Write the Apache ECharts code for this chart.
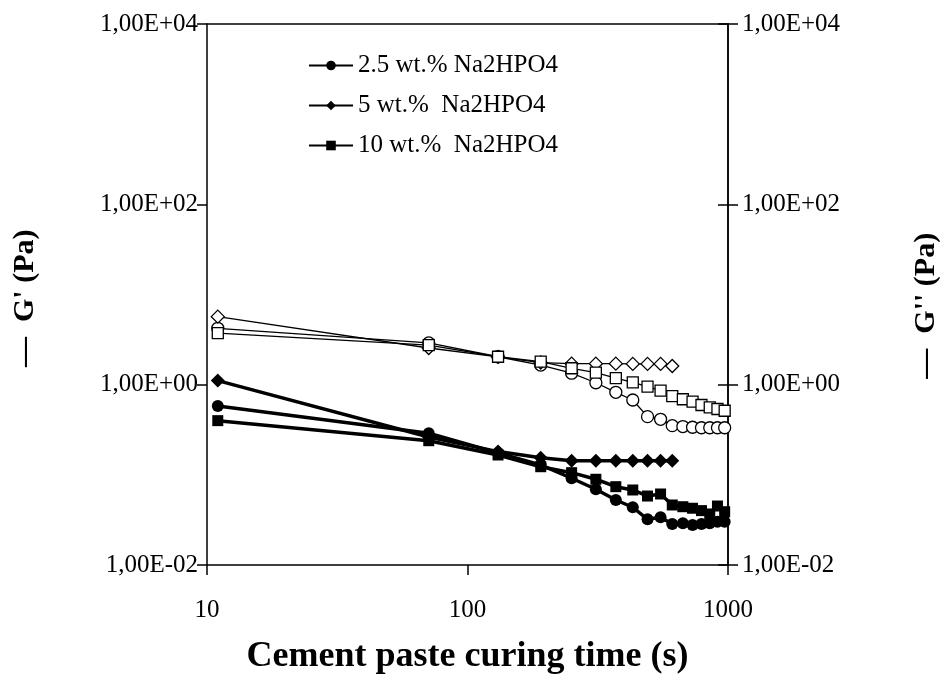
<!DOCTYPE html>
<html>
<head>
<meta charset="utf-8">
<script src="https://cdn.jsdelivr.net/npm/echarts@6/dist/echarts.min.js"></script>
<style>
html,body{margin:0;padding:0;background:#fff;}
#chart{width:940px;height:674px;}
</style>
</head>
<body>
<div id="chart"></div>
<script>
// Curing time (s)
var timesLong = [11, 71, 131, 191, 251, 311, 371, 431, 491, 551, 611, 671, 731, 791, 851, 911, 971];
var timesShort = [11, 71, 131, 191, 251, 311, 371, 431, 491, 551, 611];

// G' (filled symbols)
var gp25 = [0.580, 0.289, 0.175, 0.129, 0.0916, 0.0692, 0.0526, 0.0437, 0.0321, 0.0338, 0.0285, 0.0290, 0.0278, 0.0285, 0.0290, 0.0302, 0.0302];
var gp5 = [1.11, 0.263, 0.181, 0.155, 0.1436, 0.1436, 0.1436, 0.1436, 0.1436, 0.1436, 0.1436];
var gp10 = [0.399, 0.239, 0.166, 0.123, 0.1057, 0.0893, 0.0739, 0.0679, 0.0582, 0.0613, 0.0463, 0.0443, 0.0426, 0.0401, 0.0368, 0.0451, 0.0390];

// G'' (open symbols)
var gpp25 = [4.22, 2.90, 2.04, 1.65, 1.34, 1.05, 0.823, 0.676, 0.442, 0.413, 0.351, 0.343, 0.337, 0.333, 0.333, 0.333, 0.333];
var gpp5 = [5.68, 2.55, 2.03, 1.76, 1.71, 1.71, 1.71, 1.70, 1.70, 1.70, 1.61];
var gpp10 = [3.72, 2.75, 2.04, 1.80, 1.52, 1.36, 1.18, 1.06, 0.950, 0.857, 0.748, 0.689, 0.647, 0.595, 0.561, 0.537, 0.514];

var seriesNames = ['2.5 wt.% Na2HPO4', '5 wt.%  Na2HPO4', '10 wt.%  Na2HPO4'];
var xTickLabels = ['10', '100', '1000'];
var xAxisTitle = 'Cement paste curing time (s)';
var yLeftTitle = "\u2014  G' (Pa) ";
var yRightTitle = "\u2014  G'' (Pa)   ";

function pairs(xs, ys) { return xs.map(function (x, i) { return [x, ys[i]]; }); }
function sciLabel(v) {
  var e = Math.round(Math.log10(v));
  var s = e < 0 ? '-' : '+';
  var a = Math.abs(e);
  return '1,00E' + s + (a < 10 ? '0' + a : a);
}

var FONT = '"Liberation Serif", "Times New Roman", serif';
var chart = echarts.init(document.getElementById('chart'));

function yAx(pos, inside, showLabel, name, gap) {
  return {
    type: 'log', logBase: 100, min: 0.01, max: 10000, position: pos,
    name: name || '', nameLocation: 'middle', nameGap: gap || 0,
    nameTextStyle: { fontFamily: FONT, fontWeight: 'bold', fontSize: 30, color: '#000' },
    axisLine: { show: true, onZero: false, lineStyle: { color: '#000', width: 1.5 } },
    axisTick: { show: true, inside: inside, length: 10, lineStyle: { color: '#000', width: 1.5 } },
    minorTick: { show: false },
    axisLabel: { show: showLabel, formatter: sciLabel, fontFamily: FONT, fontSize: 25, color: '#000', margin: pos === 'left' ? 9 : 14 },
    splitLine: { show: false }
  };
}

var filledStyle = function (sym, size) {
  return { symbol: sym, symbolSize: size, lineStyle: { color: '#000', width: 3.5 }, itemStyle: { color: '#000', borderColor: '#000', borderWidth: 0 } };
};
var openStyle = function (sym, size) {
  return { symbol: sym, symbolSize: size, lineStyle: { color: '#000', width: 1.3 }, itemStyle: { color: '#fff', borderColor: '#000', borderWidth: 1.3 } };
};

function mk(name, data, style, yIdx) {
  return Object.assign({
    name: name, type: 'line', data: data, xAxisIndex: 0, yAxisIndex: yIdx,
    showAllSymbol: true, animation: false, emphasis: { disabled: true }
  }, style);
}

var option = {
  backgroundColor: '#fff',
  animation: false,
  grid: { left: 207, right: 212, top: 24, bottom: 109, containLabel: false, outerBoundsMode: 'none' },
  legend: {
    data: seriesNames,
    orient: 'vertical', left: 303, top: 48,
    itemWidth: 44, itemHeight: 12, itemGap: 15,
    textStyle: { fontFamily: FONT, fontSize: 25, color: '#000' },
    selectedMode: false
  },
  xAxis: [{
    type: 'log', logBase: 10, min: 10, max: 1000, position: 'bottom',
    name: xAxisTitle, nameLocation: 'middle', nameGap: 74,
    nameTextStyle: { fontFamily: FONT, fontWeight: 'bold', fontSize: 36, color: '#000' },
    axisLine: { show: true, onZero: false, lineStyle: { color: '#000', width: 1.5 } },
    axisTick: { show: true, inside: false, length: 10, lineStyle: { color: '#000', width: 1.5 } },
    minorTick: { show: false },
    axisLabel: {
      formatter: function (v) { var i = Math.round(Math.log10(v)) - 1; return xTickLabels[i] || ''; },
      fontFamily: FONT, fontSize: 25, color: '#000', margin: 33
    },
    splitLine: { show: false }
  }, {
    type: 'log', logBase: 10, min: 10, max: 1000, position: 'top',
    axisLine: { show: true, onZero: false, lineStyle: { color: '#000', width: 1.5 } },
    axisTick: { show: false }, axisLabel: { show: false }, splitLine: { show: false }
  }],
  yAxis: [
    yAx('left', false, true, yLeftTitle, 167),
    yAx('right', false, true, yRightTitle, 183),
    yAx('right', true, false, '', 0)
  ],
  series: [
    mk('G2', pairs(timesLong, gpp25), openStyle('circle', 12), 1),
    mk('G5', pairs(timesShort, gpp5), openStyle('diamond', 13), 1),
    mk('G10', pairs(timesLong, gpp10), openStyle('rect', 11), 1),
    mk(seriesNames[0], pairs(timesLong, gp25), filledStyle('circle', 12), 0),
    mk(seriesNames[1], pairs(timesShort, gp5), filledStyle('diamond', 14), 0),
    mk(seriesNames[2], pairs(timesLong, gp10), filledStyle('rect', 11), 0)
  ]
};
chart.setOption(option);
</script>
</body>
</html>
